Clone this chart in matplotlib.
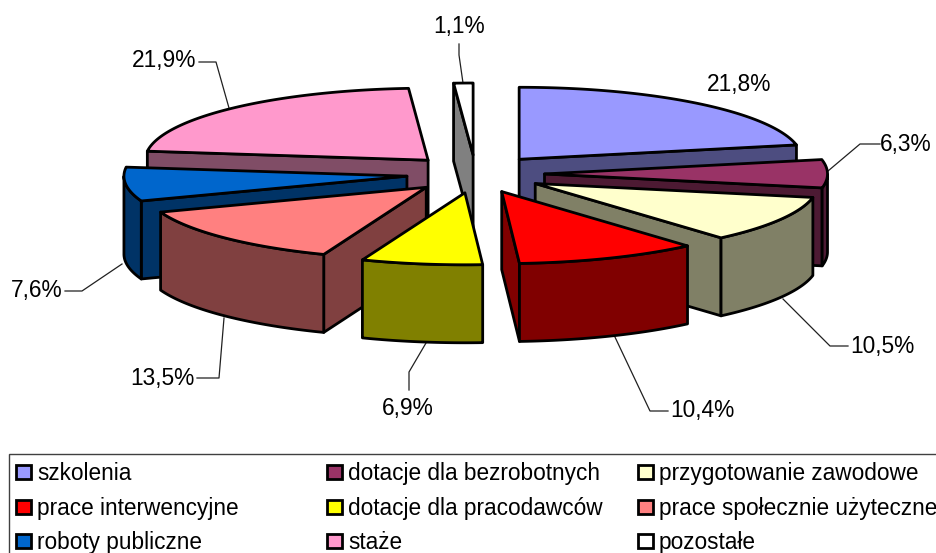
import numpy as np
import matplotlib
matplotlib.use("Agg")
import matplotlib.pyplot as plt
from matplotlib.patches import Polygon, Rectangle

plt.rcParams['font.family'] = ['Liberation Sans', 'DejaVu Sans']

#data
categories = ["szkolenia", "dotacje dla bezrobotnych", "przygotowanie zawodowe",
              "prace interwencyjne", "dotacje dla pracodawców", "prace społecznie użyteczne",
              "roboty publiczne", "staże", "pozostałe"]
values = [21.8, 6.3, 10.5, 10.4, 6.9, 13.5, 7.6, 21.9, 1.1]
colors = ["#9999FF", "#993366", "#FFFFCC", "#FF0000", "#FFFF00", "#FF8080", "#0066CC", "#FF99CC", "#FFFFFF"]
labels = ["21,8%", "6,3%", "10,5%", "10,4%", "6,9%", "13,5%", "7,6%", "21,9%", "1,1%"]

#pie geometry in pixels
cx, cy = 475.5, 174
rx, ry = 283, 72
ex, ey = 69, 19
depth = 78
lw = 2

#label text position and leader line for each slice
label_pos = [(739, 84), (906, 145), (882, 346), (702, 411), (408, 409), (162, 378), (37, 291), (164, 61), (459, 27)]
leaders = [None,
           [(828, 171), (860, 144), (880, 144)],
           [(783, 299), (830, 346), (848, 346)],
           [(614, 335), (650, 411), (668, 411)],
           [(426, 343), (409, 372), (409, 390)],
           [(224, 318), (219, 378), (197, 378)],
           [(122, 264), (82, 291), (65, 291)],
           [(229, 108), (216, 62), (199, 62)],
           [(463, 83), (459, 55), (459, 44)]]


def darker(col):
    return tuple(c * 0.5 for c in matplotlib.colors.to_rgb(col))


def ell(t):
    return np.column_stack([rx * np.sin(t), -ry * np.cos(t)])


fig = plt.figure(figsize=(9.37, 5.53), dpi=100)
ax = fig.add_axes([0, 0, 1, 1])
ax.set_xlim(0, 937)
ax.set_ylim(553, 0)
ax.axis("off")

edges = np.radians(np.cumsum([0] + values) / np.sum(values) * 360)

# back slices get painted first
draw_order = [8, 7, 0, 1, 6, 2, 5, 3, 4]
z = 2
for i in draw_order:
    t0, t1 = edges[i], edges[i + 1]
    mid = (t0 + t1) / 2
    apex = np.array([cx + ex * np.sin(mid), cy - ey * np.cos(mid)])
    arc_t = np.linspace(t0, t1, 80)
    arc = apex + ell(arc_t)
    down = np.array([0, depth])
    side = darker(colors[i])

    #cut walls, only the ones facing the viewer
    visible = []
    if np.sin(t0) < 0:
        visible.append(arc[0])
    if np.sin(t1) > 0:
        visible.append(arc[-1])
    for p in visible:
        wall = np.array([apex, p, p + down, apex + down])
        ax.add_patch(Polygon(wall, closed=True, fc=side, ec="black", lw=lw, joinstyle="round", zorder=z))
        z += 1

    #outer wall, front half only
    front = arc_t[(arc_t >= np.pi / 2) & (arc_t <= 3 * np.pi / 2)]
    if len(front) > 1:
        a = apex + ell(front)
        band = np.vstack([a, (a + down)[::-1]])
        ax.add_patch(Polygon(band, closed=True, fc=side, ec="black", lw=lw, joinstyle="round", zorder=z))
        z += 1

    top = np.vstack([apex, arc])
    ax.add_patch(Polygon(top, closed=True, fc=colors[i], ec="black", lw=lw, joinstyle="round", zorder=z))
    z += 1

for i in range(len(labels)):
    ax.text(label_pos[i][0], label_pos[i][1], labels[i], fontsize=16.4, ha="center", va="center", zorder=100)
    if leaders[i] is not None:
        xs, ys = zip(*leaders[i])
        ax.plot(xs, ys, color="#202020", lw=0.9, zorder=1)

#legend
ax.add_patch(Rectangle((9, 454), 940, 110, fc="white", ec="#404040", lw=1, zorder=100))
col_x = [16, 327, 638]
row_y = [472, 507, 541]
for i in range(len(categories)):
    x = col_x[i % 3]
    y = row_y[i // 3]
    ax.add_patch(Rectangle((x, y - 7), 15, 14, fc=colors[i], ec="black", lw=2, zorder=101))
    ax.text(x + 21, y + 1.5, categories[i], fontsize=16.25, ha="left", va="center", zorder=101)

fig.savefig("out.png", dpi=100)
